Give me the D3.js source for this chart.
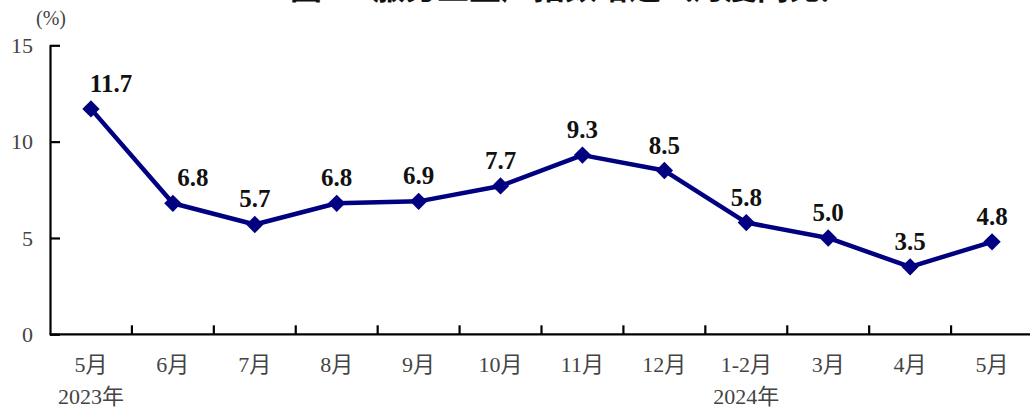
<!DOCTYPE html>
<html>
<head>
<meta charset="utf-8">
<script src="https://cdn.jsdelivr.net/npm/d3@7"></script>
<style>
  html, body { margin: 0; padding: 0; background: #fff; }
  svg { display: block; }
</style>
</head>
<body>
<svg id="chart" width="1030" height="411"></svg>
<script>
// ---- data ----
const titleText = "图1\u3000服务业生产指数增速（月度同比）";
const unitLabel = "(%)";
const categories = ["5月", "6月", "7月", "8月", "9月", "10月", "11月", "12月", "1-2月", "3月", "4月", "5月 "];
const yearLabels = ["2023年", "", "", "", "", "", "", "", "2024年", "", "", ""];
const values = [11.7, 6.8, 5.7, 6.8, 6.9, 7.7, 9.3, 8.5, 5.8, 5.0, 3.5, 4.8];
const yTicks = [0, 5, 10, 15];

// ---- layout ----
const svg = d3.select("#chart");
const plotLeft = 50, plotRight = 1033, plotTop = 45.3, plotBottom = 334.3;
const serif = "'Liberation Serif', 'Times New Roman', 'Noto Sans CJK SC', serif";
const navy = "#000080";
const grey = "#444";

const x = d3.scaleBand().domain(categories).range([plotLeft, plotRight]).paddingInner(0).paddingOuter(0);
const y = d3.scaleLinear().domain([0, 15]).range([plotBottom, plotTop]);

// title (partially cut off at top, as in the reference)
svg.append("text")
  .attr("x", 290).attr("y", -1.5)
  .attr("font-family", "'Noto Sans CJK SC', sans-serif")
  .attr("font-weight", "bold")
  .attr("font-size", 32)
  .attr("fill", "#111")
  .text(titleText);

// unit label
svg.append("text")
  .attr("x", plotLeft + 1).attr("y", 25)
  .attr("text-anchor", "middle")
  .attr("font-family", serif)
  .attr("font-size", 20)
  .attr("fill", grey)
  .text(unitLabel);

// y axis
const yAxis = d3.axisRight(y).tickValues(yTicks).tickSize(10).tickFormat("");
const gy = svg.append("g").attr("transform", `translate(${plotLeft},0)`).call(yAxis);
gy.select(".domain").attr("stroke", "#000").attr("stroke-width", 2.2).attr("d", `M0.5,${plotTop}V${plotBottom}`);
gy.selectAll(".tick line").attr("stroke", "#000").attr("stroke-width", 2.2);

// y tick labels
svg.append("g").selectAll("text").data(yTicks).join("text")
  .attr("x", 33).attr("y", d => y(d))
  .attr("dy", "0.35em")
  .attr("text-anchor", "end")
  .attr("font-family", serif)
  .attr("font-size", 22)
  .attr("fill", grey)
  .text(d => d);

// x axis
const boundaries = categories.map(c => x(c) + x.bandwidth()).slice(0, -1);
svg.append("line")
  .attr("x1", plotLeft - 0.5).attr("x2", 1030)
  .attr("y1", plotBottom).attr("y2", plotBottom)
  .attr("stroke", "#000").attr("stroke-width", 2.2);
svg.append("g").selectAll("line").data(boundaries).join("line")
  .attr("x1", d => d).attr("x2", d => d)
  .attr("y1", plotBottom).attr("y2", plotBottom - 9)
  .attr("stroke", "#000").attr("stroke-width", 2.2);

// x labels
svg.append("g").selectAll("text").data(categories).join("text")
  .attr("x", d => x(d) + x.bandwidth() / 2)
  .attr("y", 372)
  .attr("text-anchor", "middle")
  .attr("font-family", serif)
  .attr("font-size", 22)
  .attr("fill", grey)
  .text(d => d.trim());
svg.append("g").selectAll("text").data(yearLabels).join("text")
  .attr("x", (d, i) => x(categories[i]) + x.bandwidth() / 2)
  .attr("y", 404)
  .attr("text-anchor", "middle")
  .attr("font-family", serif)
  .attr("font-size", 22)
  .attr("fill", grey)
  .text(d => d);

// line
const pts = values.map((v, i) => [x(categories[i]) + x.bandwidth() / 2, y(v)]);
svg.append("path")
  .attr("d", d3.line()(pts))
  .attr("fill", "none")
  .attr("stroke", navy)
  .attr("stroke-width", 4.5)
  .attr("stroke-linejoin", "round");

// diamond markers
const sym = d3.symbol(d3.symbolSquare, 150);
svg.append("g").selectAll("path").data(pts).join("path")
  .attr("d", sym())
  .attr("transform", d => `translate(${d[0]},${d[1]}) rotate(45)`)
  .attr("fill", navy);

// value labels
const shiftRight = i => i === 0 || values[i - 1] - values[i] > 3;
svg.append("g").selectAll("text").data(values).join("text")
  .attr("x", (d, i) => pts[i][0] + (shiftRight(i) ? 20 : 0))
  .attr("y", (d, i) => pts[i][1] - 17)
  .attr("text-anchor", "middle")
  .attr("font-family", serif)
  .attr("font-weight", "bold")
  .attr("font-size", 25)
  .attr("fill", "#111")
  .text(d => d.toFixed(1));
</script>
</body>
</html>
